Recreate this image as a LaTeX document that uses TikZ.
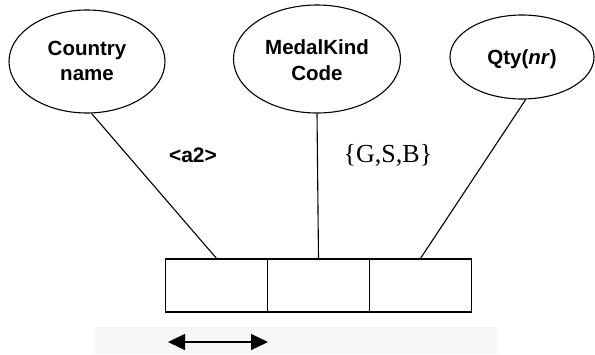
\documentclass[tikz,border=0pt]{standalone}
\usepackage{fontspec}
\setmainfont{Liberation Sans}
\newfontfamily\timesfont{Liberation Serif}
\usetikzlibrary{shapes.geometric,arrows.meta}
\begin{document}
\begin{tikzpicture}[x=1pt,y=-1pt,
  attr/.style={ellipse,draw,line width=1.1pt,inner sep=0pt},
  attrtext/.style={anchor=base,inner sep=0pt,font=\bfseries\fontsize{20.5}{24}\selectfont},
  cell/.style={rectangle,draw,line width=1.2pt,minimum width=102pt,minimum height=53pt,inner sep=0pt},
  link/.style={line width=1.1pt},
  domlabel/.style={font=\bfseries\fontsize{21}{24}\selectfont},
  widtharrow/.style={line width=1.2pt,>={Triangle[length=17pt,width=16pt]},<->}]
\useasboundingbox (0,0) rectangle (595,354);
% faint band under the record
\fill[black!3] (95,327) rectangle (497,354);

% attribute ellipses
\node[attr,minimum width=156pt,minimum height=103pt] (country) at (87,61.5) {};
\node[attr,minimum width=167pt,minimum height=108pt] (medal) at (317,59) {};
\node[attr,minimum width=144pt,minimum height=84pt] (qty) at (522,57) {};

% attribute names
\node[attrtext] (t1a) at (87,55) {Country};
\node[attrtext] (t1b) at (87,80) {name};
\node[attrtext] (t2a) at (317,54) {MedalKind};
\node[attrtext] (t2b) at (317,80) {Code};
\node[attrtext] (t3) at (522,64) {Qty(\textit{nr})};

% record cells
\node[cell] (c1) at (216.5,285.5) {};
\node[cell] (c2) at (318.5,285.5) {};
\node[cell] (c3) at (420.5,285.5) {};

% links from attributes to cells
\draw[link] (country.-85) -- (c1.north);
\draw[link] (medal.south) -- (c2.north);
\draw[link] (qty.-85) -- (c3.north);

% domain labels
\node[domlabel] (dom1) at (193,155) {<a2>};
\node[font=\timesfont\fontsize{26}{28}\selectfont] (dom2) at (388,155) {\{G,S,B\}};

% width arrow under the first cell
\coordinate (wl) at (168,342);
\coordinate (wr) at (268,342);
\draw[widtharrow] (wl) -- (wr);
\end{tikzpicture}
\end{document}
